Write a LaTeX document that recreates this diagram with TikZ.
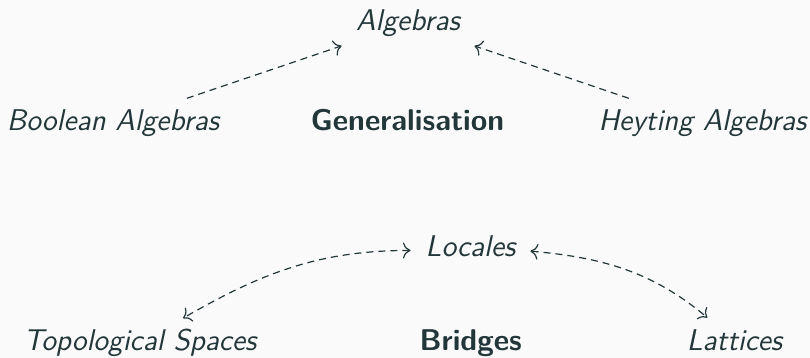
\documentclass[tikz,border=0pt]{standalone}
\usepackage{fontspec}
\usepackage{tikz}
\usetikzlibrary{arrows.meta, positioning}
\usepackage{xcolor}
\definecolor{Ink}{HTML}{23373B}
\definecolor{Paper}{HTML}{FAFAFA}
\tikzset{
  term/.style={anchor=base, text=Ink, font=\fontsize{15}{18}\selectfont\sffamily\itshape},
  head/.style={anchor=base, text=Ink, font=\fontsize{15}{18}\selectfont\sffamily\bfseries},
  link/.style={->, semithick, dash pattern=on 3.5pt off 2.5pt, draw=Ink},
}

\begin{document}
\begin{tikzpicture}[x=0.5pt, y=0.5pt, >={To[scale=1.3]}]
    \useasboundingbox[fill=Paper] (0,0) rectangle (810,358);
    % generalisation row
    \node[term] (alg) at (408,327.3) {Algebras};
    \node[term] (bool) at (113,227.3) {Boolean Algebras};
    \node[head] (gen) at (407.5,227.3) {Generalisation};
    \node[term] (heyt) at (702.5,227.3) {Heyting Algebras};
    % bridges row
    \node[term] (loc) at (470.5,101.3) {Locales};
    \node[term] (topo) at (140,7.3) {Topological Spaces};
    \node[head] (brg) at (470.7,7.3) {Bridges};
    \node[term] (latt) at (734.5,7.3) {Lattices};
    \draw[link, shorten <=7pt, shorten >=4pt] (bool) -- (alg);
    \draw[link, shorten <=7pt, shorten >=4pt] (heyt) -- (alg);
    \draw[link, <->, shorten <=4pt, shorten >=4pt] ([yshift=-2pt]loc.west) to[out=180, in=30] (topo);
    \draw[link, <->, shorten <=4pt, shorten >=4pt] ([yshift=-2pt]loc.east) to[out=-5, in=140] (latt);
\end{tikzpicture}
\end{document}
